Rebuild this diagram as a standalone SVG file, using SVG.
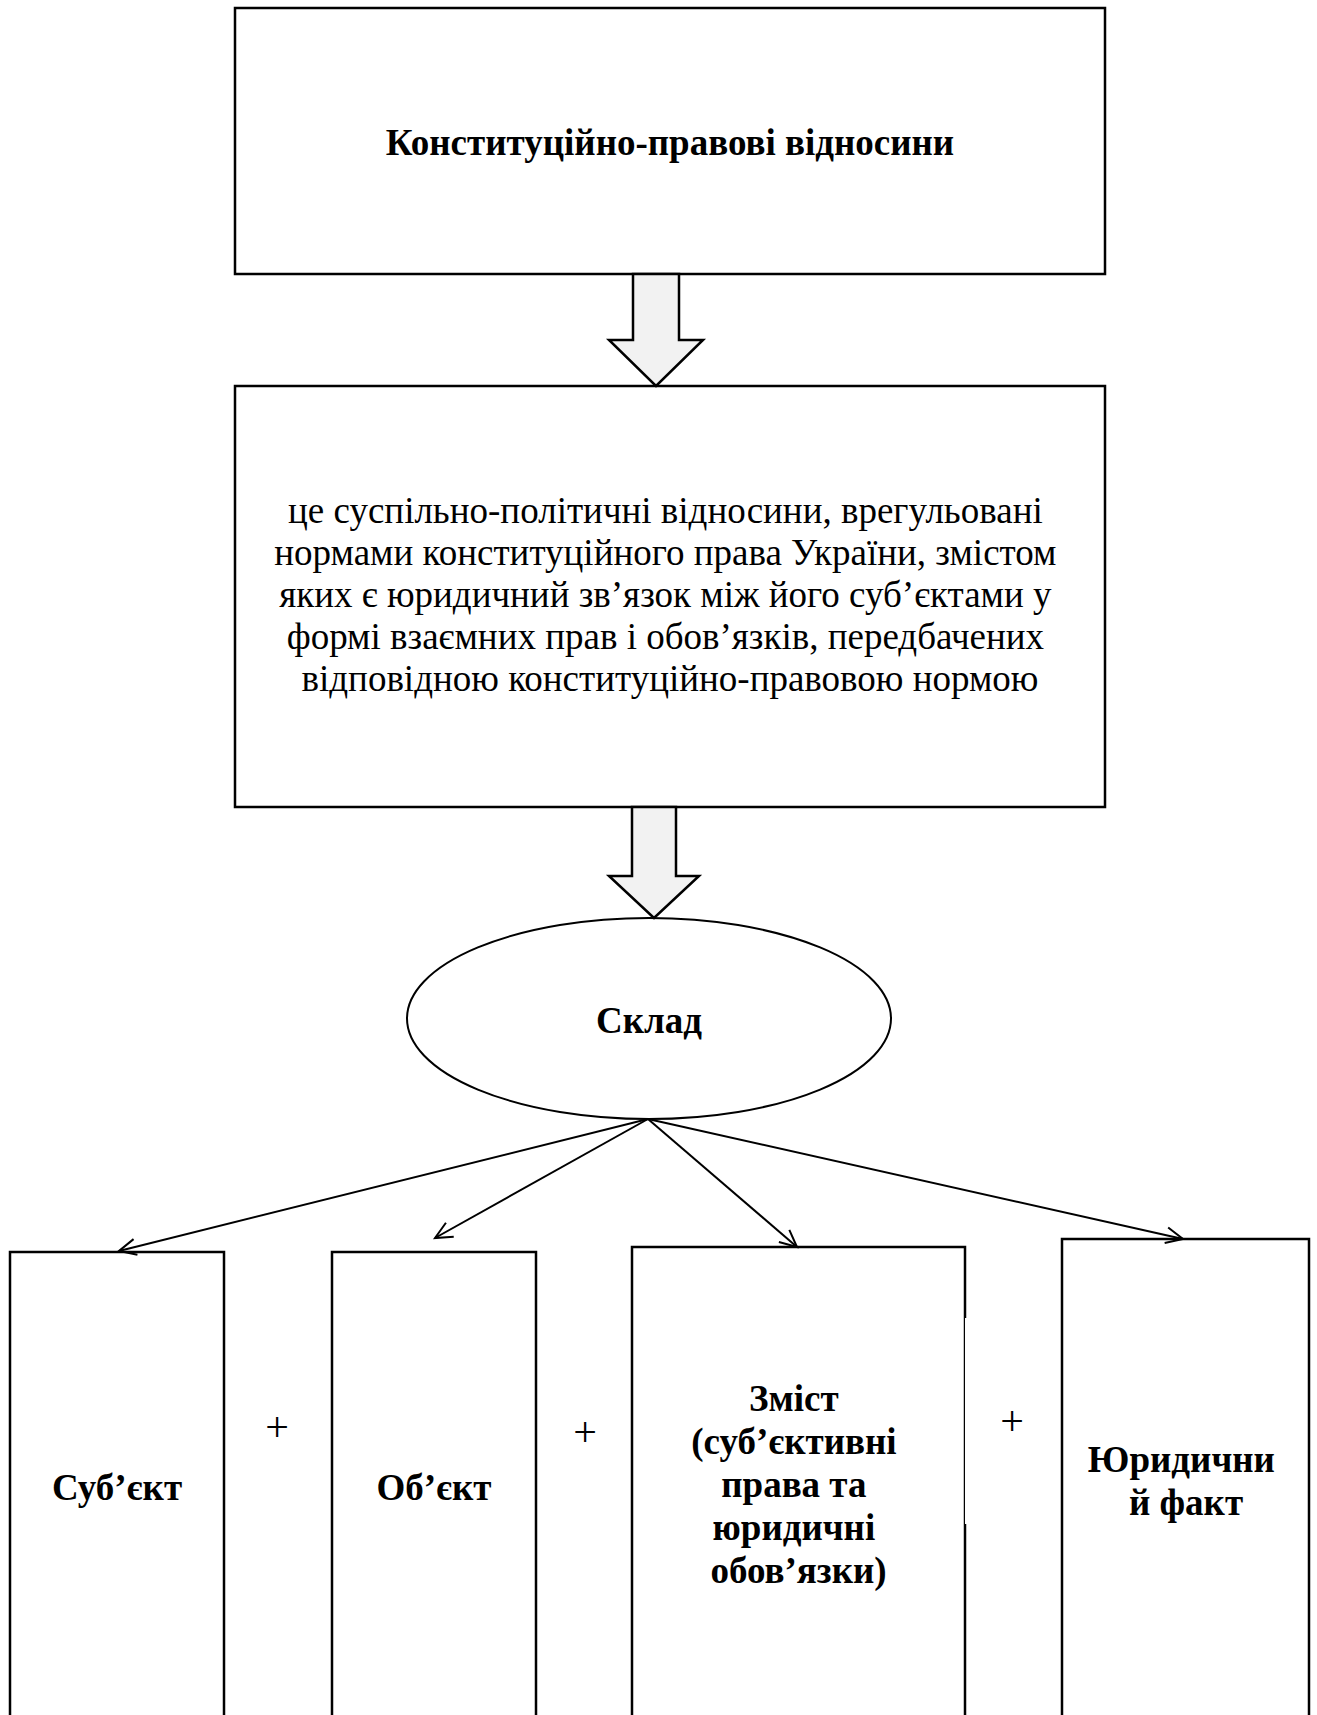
<svg xmlns="http://www.w3.org/2000/svg" width="1317" height="1715" viewBox="0 0 1317 1715">
<defs>
<style>
.box{fill:#fff;stroke:#000;stroke-width:2.5}
.blk{fill:#f2f2f2;stroke:#000;stroke-width:2.5;stroke-linejoin:miter}
.t{fill:#000;text-anchor:middle}
.b{font-weight:bold}
.body{font-size:37px}
.lbl{font-size:37px}
.plus{font-size:42px;text-anchor:middle;fill:#000}
.con{fill:none;stroke:#000;stroke-width:2}
</style>
<marker id="open" markerUnits="userSpaceOnUse" markerWidth="40" markerHeight="40" viewBox="-20 -20 40 40" refX="0" refY="0" orient="auto">
<path d="M-17,-8 L0,0 L-17,8" fill="none" stroke="#000" stroke-width="2"/>
</marker>
</defs>
<g font-family="'Liberation Serif', 'Times New Roman', 'DejaVu Serif', serif">
<g id="node-title">
<rect class="box" x="235" y="8" width="870" height="266"/>
<text class="t b" x="670" y="155" font-size="37">Конституційно-правові відносини</text>
</g>
<g id="node-definition">
<rect class="box" x="235" y="386" width="870" height="421"/>
<text class="t body">
<tspan x="670" y="523">це суспільно-політичні відносини, врегульовані</tspan>
<tspan x="670" y="565">нормами конституційного права України, змістом</tspan>
<tspan x="670" y="607">яких є юридичний зв’язок між його суб’єктами у</tspan>
<tspan x="670" y="649">формі взаємних прав і обов’язків, передбачених</tspan>
<tspan x="670" y="691">відповідною конституційно-правовою нормою</tspan>
</text>
</g>
<g id="node-sklad">
<ellipse cx="649" cy="1018.5" rx="242" ry="100.5" fill="#fff" stroke="#000" stroke-width="2"/>
<text class="t b" x="649" y="1033" font-size="37">Склад</text>
</g>
<g id="node-subject">
<rect class="box" x="10" y="1252" width="214" height="480"/>
<text class="t b lbl" x="117" y="1500">Суб’єкт</text>
</g>
<g id="node-object">
<rect class="box" x="332" y="1252" width="204" height="480"/>
<text class="t b lbl" x="434" y="1500">Об’єкт</text>
</g>
<g id="node-content">
<rect class="box" x="632" y="1247" width="333" height="485"/>
<text class="t b lbl">
<tspan x="798.5" y="1411">Зміст</tspan>
<tspan x="798.5" y="1454">(суб’єктивні</tspan>
<tspan x="798.5" y="1497">права та</tspan>
<tspan x="798.5" y="1540">юридичні</tspan>
<tspan x="798.5" y="1583">обов’язки)</tspan>
</text>
</g>
<g id="node-fact">
<rect class="box" x="1062" y="1239" width="247" height="490"/>
<text class="t b lbl">
<tspan x="1186" y="1472">Юридични</tspan>
<tspan x="1186" y="1515">й факт</tspan>
</text>
</g>
<g id="plus-signs">
<rect x="965" y="1318" width="78" height="206" fill="#fff"/>
<text class="plus" x="277" y="1441">+</text>
<text class="plus" x="585" y="1446">+</text>
<text class="plus" x="1012" y="1435">+</text>
</g>
</g>
<g id="connectors">
<polygon class="blk" points="633,274 679,274 679,340 703,340 656,386 609,340 633,340"/>
<polygon class="blk" points="632,807 676,807 676,876 699,876 654,918 609,876 632,876"/>
<line class="con" x1="648" y1="1119" x2="119" y2="1251" marker-end="url(#open)"/>
<line class="con" x1="648" y1="1119" x2="435" y2="1238" marker-end="url(#open)"/>
<line class="con" x1="648" y1="1119" x2="797" y2="1247" marker-end="url(#open)"/>
<line class="con" x1="648" y1="1119" x2="1183" y2="1239" marker-end="url(#open)"/>
</g>
</svg>
